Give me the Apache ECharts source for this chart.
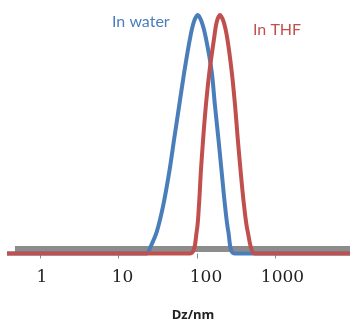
<!DOCTYPE html>
<html>
<head>
<meta charset="utf-8">
<script src="https://cdn.jsdelivr.net/npm/echarts@6/dist/echarts.min.js"></script>
<style>
  html, body { margin: 0; padding: 0; background: #fff; }
  #chart { width: 350px; height: 321px; }
</style>
</head>
<body>
<div id="chart"></div>
<script>
// Hydrodynamic diameter distributions (intensity, normalised to 100)
const sizesWater = [0.38, 10, 23, 25.2, 30.7, 37.2, 44.4, 51.4, 59.5, 68.9, 81.5, 91, 102, 115, 130, 154, 169, 187, 206, 227, 251, 299, 1000, 10000];
const valuesWater = [0, 0, 0, 2.3, 9.1, 20.3, 34.3, 48.4, 62.3, 76.2, 90.2, 97, 100, 97, 90.2, 76.2, 62.3, 48.4, 34.3, 20.3, 9.1, 0, 0, 0];

const sizesTHF = [0.38, 10, 81.5, 99, 106, 112, 120, 130, 144, 165, 178, 196, 219, 243, 277, 305, 330, 360, 397, 443, 548, 1000, 10000];
const valuesTHF = [0, 0, 0, 9.1, 20.3, 34.3, 48.4, 62.3, 76.2, 90.2, 97, 100, 97, 90.2, 76.2, 62.3, 48.4, 34.3, 20.3, 9.1, 0, 0, 0];

// flat reference trace along the axis
const sizesRef = [0.48, 10000];
const valuesRef = [1.9, 1.9];

const tickValues = [1, 10, 100, 1000];
const tickLabels = ['1', '10', '100', '1000'];

const pair = (xs, ys) => xs.map((x, i) => [x, ys[i]]);

const chart = echarts.init(document.getElementById('chart'), null, { renderer: 'canvas' });

chart.setOption({
  animation: false,
  backgroundColor: '#ffffff',
  grid: { left: 7, width: 347, top: 15, bottom: 67.5, containLabel: false, outerBoundsMode: 'none' },
  xAxis: {
    type: 'log',
    logBase: 10,
    min: 0.38,
    max: 10000,
    name: 'Dz/nm',
    nameLocation: 'middle',
    nameGap: 55,
    nameTextStyle: { fontFamily: 'Open Sans', fontWeight: 'bold', fontSize: 13, color: '#222', padding: [0, 0, 0, 25] },
    axisLine: { show: false },
    axisTick: { show: true, length: 5, customValues: tickValues, lineStyle: { color: '#8c8c8c', width: 1 } },
    axisLabel: {
      show: true,
      customValues: tickValues,
      margin: 16,
      fontFamily: 'DejaVu Serif',
      fontSize: 17,
      color: '#222',
      formatter: function (v) {
        const i = tickValues.findIndex(t => Math.abs(t - v) / t < 1e-6);
        if (i < 0) return '';
        return '{p' + i + '|' + tickLabels[i] + '}';
      },
      rich: {
        p0: { padding: [0, 0, 0, 4], fontFamily: 'DejaVu Serif', fontSize: 17, color: '#222' },
        p1: { padding: [0, 0, 0, 8], fontFamily: 'DejaVu Serif', fontSize: 17, color: '#222' },
        p2: { padding: [0, 0, 0, 18], fontFamily: 'DejaVu Serif', fontSize: 17, color: '#222' },
        p3: { padding: [0, 0, 0, 14], fontFamily: 'DejaVu Serif', fontSize: 17, color: '#222' }
      }
    },
    splitLine: { show: false },
    minorTick: { show: false }
  },
  yAxis: {
    type: 'value',
    min: 0,
    max: 100,
    show: false,
    splitLine: { show: false }
  },
  graphic: [
    { type: 'text', left: 112, top: 14, style: { text: 'In water', fontFamily: 'Lato', fontSize: 16, fill: '#4a7ebb' } },
    { type: 'text', left: 253, top: 22, style: { text: 'In THF', fontFamily: 'Lato', fontSize: 16, fill: '#c0504d' } }
  ],
  series: [
    {
      name: 'ref',
      type: 'line',
      data: pair(sizesRef, valuesRef),
      showSymbol: false,
      clip: false,
      lineStyle: { color: '#8c8c8c', width: 6, cap: 'butt' },
      z: 1
    },
    {
      name: 'In water',
      type: 'line',
      data: pair(sizesWater, valuesWater),
      showSymbol: false,
      smooth: 0.3,
      clip: false,
      lineStyle: { color: '#4a7ebb', width: 4 },
      z: 2
    },
    {
      name: 'In THF',
      type: 'line',
      data: pair(sizesTHF, valuesTHF),
      showSymbol: false,
      smooth: 0.3,
      clip: false,
      lineStyle: { color: '#c0504d', width: 4 },
      z: 3
    }
  ]
});
</script>
</body>
</html>
